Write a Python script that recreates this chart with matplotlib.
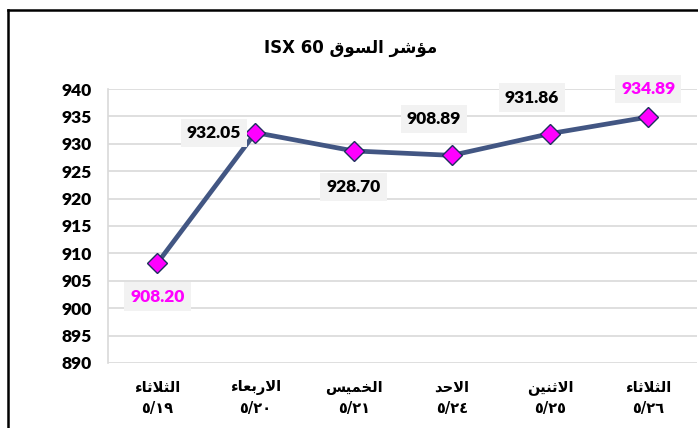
import matplotlib.pyplot as plt
from matplotlib.lines import Line2D

# ===== Data =====
days = ["الثلاثاء", "الاربعاء", "الخميس", "الاحد", "الاثنين", "الثلاثاء"]
dates = ["٥/١٩", "٥/٢٠", "٥/٢١", "٥/٢٤", "٥/٢٥", "٥/٢٦"]
values = [908.20, 932.05, 928.70, 927.89, 931.86, 934.89]
value_labels = ["908.20", "932.05", "928.70", "908.89", "931.86", "934.89"]
title_ar = "مؤشر السوق"
title_en = "ISX 60"

# ===== Minimal Arabic shaping (matplotlib has no text shaping) =====
FORMS = {  # iso, fin, init, medi
    'ا': ('\uFE8D', '\uFE8E'), 'ء': ('\uFE80',), 'ر': ('\uFEAD', '\uFEAE'),
    'د': ('\uFEA9', '\uFEAA'), 'و': ('\uFEED', '\uFEEE'), 'ؤ': ('\uFE85', '\uFE86'),
    'ل': ('\uFEDD', '\uFEDE', '\uFEDF', '\uFEE0'), 'ث': ('\uFE99', '\uFE9A', '\uFE9B', '\uFE9C'),
    'ب': ('\uFE8F', '\uFE90', '\uFE91', '\uFE92'), 'ع': ('\uFEC9', '\uFECA', '\uFECB', '\uFECC'),
    'خ': ('\uFEA5', '\uFEA6', '\uFEA7', '\uFEA8'), 'م': ('\uFEE1', '\uFEE2', '\uFEE3', '\uFEE4'),
    'ي': ('\uFEF1', '\uFEF2', '\uFEF3', '\uFEF4'), 'س': ('\uFEB1', '\uFEB2', '\uFEB3', '\uFEB4'),
    'ح': ('\uFEA1', '\uFEA2', '\uFEA3', '\uFEA4'), 'ن': ('\uFEE5', '\uFEE6', '\uFEE7', '\uFEE8'),
    'ش': ('\uFEB5', '\uFEB6', '\uFEB7', '\uFEB8'), 'ق': ('\uFED5', '\uFED6', '\uFED7', '\uFED8'),
}


def shape(word):
    out = []
    i = 0
    n = len(word)
    while i < n:
        c = word[i]
        prev_joins = i > 0 and len(FORMS.get(word[i - 1], ())) == 4
        if c == 'ل' and i + 1 < n and word[i + 1] == 'ا':
            out.append('\uFEFC' if prev_joins else '\uFEFB')
            i += 2
            continue
        f = FORMS.get(c)
        if f is None:
            out.append(c)
            i += 1
            continue
        next_joins = len(f) == 4 and i + 1 < n and word[i + 1] in FORMS
        if len(f) == 1:
            out.append(f[0])
        elif prev_joins and next_joins:
            out.append(f[3])
        elif prev_joins:
            out.append(f[1])
        elif next_joins:
            out.append(f[2])
        else:
            out.append(f[0])
        i += 1
    return ''.join(out)


def visual(text):
    # shape each word, then reverse for right-to-left display
    return ' '.join(shape(w)[::-1] for w in text.split(' ')[::-1])


font = 'DejaVu Sans'
num_font = ['Lato', 'DejaVu Sans']

fig = plt.figure(figsize=(6.98, 4.28), dpi=100)
ax = fig.add_axes([0.155, 0.152, 0.844, 0.640])

x = list(range(len(values)))
ax.plot(x, values, color='#425683', linewidth=3.4, marker='D', markersize=10.5,
        markerfacecolor='#ff00ff', markeredgecolor='#1f2f5f', markeredgewidth=1,
        zorder=3)

# ===== Data labels =====
label_colors = ['#ff00ff', 'black', 'black', 'black', 'black', '#ff00ff']
label_offsets = [(0, -24), (-30, 0), (0, -26), (-13, 26), (-13, 26), (0, 20)]
for xi, yi, txt, col, off in zip(x, values, value_labels, label_colors, label_offsets):
    ax.annotate(txt, (xi, yi), xytext=off, textcoords='offset points',
                ha='center', va='center', fontsize=12.5, fontweight='heavy',
                family=num_font, color=col, zorder=4,
                bbox=dict(boxstyle='square,pad=0.35', fc='#f2f2f2', ec='none'))

# ===== Axes =====
ax.set_xlim(-0.5, len(values) - 0.5)
ax.set_ylim(890, 940)
ax.set_yticks(range(890, 941, 5))
ax.set_yticklabels([str(v) for v in range(890, 941, 5)], fontsize=12.5,
                   fontweight='heavy', family=num_font)
ax.tick_params(axis='y', length=0, pad=12)
ax.set_xticks(x)
ax.set_xticklabels([visual(d) + '\n' + dt for d, dt in zip(days, dates)],
                   fontsize=10.5, fontweight='bold', family=font, linespacing=1.5)
ax.tick_params(axis='x', length=0, pad=12)
ax.grid(axis='y', color='#d9d9d9', linewidth=1.2)
ax.set_axisbelow(True)
for s in ['top', 'right', 'bottom']:
    ax.spines[s].set_visible(False)
ax.spines['left'].set_color('#d9d9d9')
ax.spines['left'].set_linewidth(1.2)

# ===== Title =====
fig.text(0.502, 0.889, title_en + ' ' + visual(title_ar), ha='center', va='center',
         fontsize=12, fontweight='bold', family=font)

# ===== Outer frame =====
fig.add_artist(Line2D([0.011, 1.0], [0.977, 0.977], color='black', linewidth=1.8,
                      transform=fig.transFigure))
fig.add_artist(Line2D([0.011, 0.011], [0.0, 0.977], color='black', linewidth=1.8,
                      transform=fig.transFigure))

fig.savefig('out.png', dpi=100)
